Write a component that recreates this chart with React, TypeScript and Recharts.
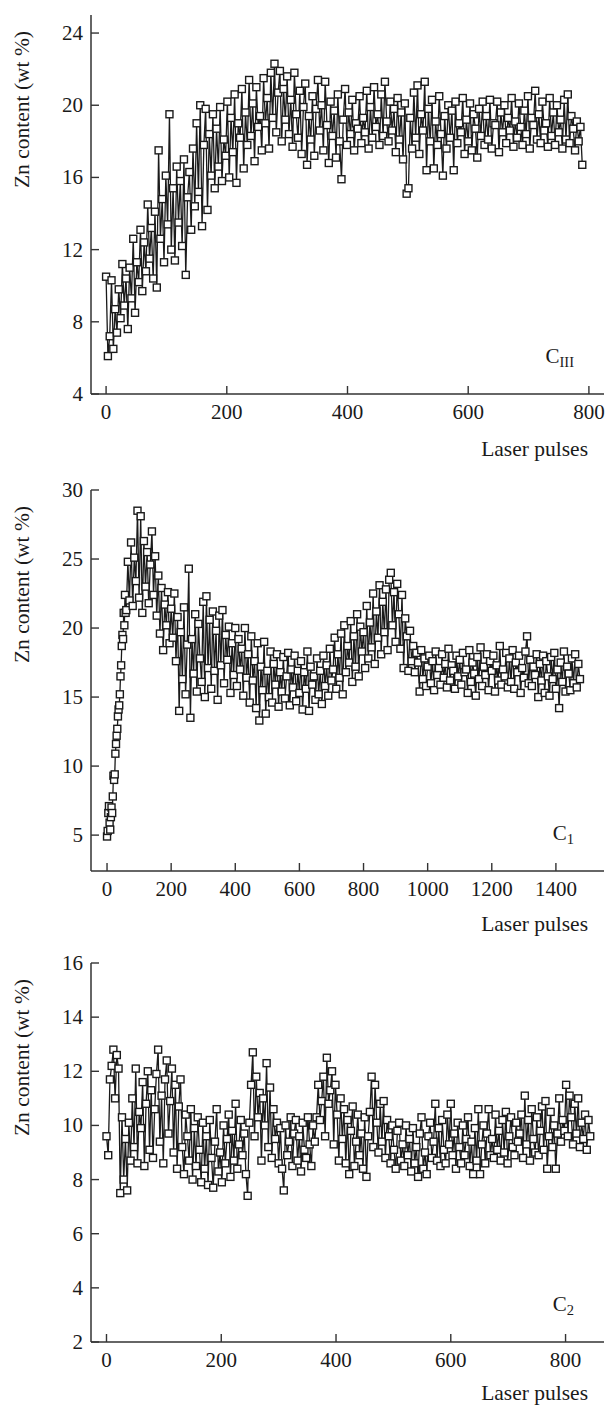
import React from "react";
import { LineChart, Line, XAxis, YAxis } from "recharts";

// Zn content (wt %) vs laser pulse number

// C_III: one point every 3 pulses, from pulse 0
const C3_STEP = 3;
const C3_ZN = [
  10.5, 6.1, 7.2, 10.3, 6.5, 8.7, 7.4, 9.8, 8.2, 11.2,
  8.9, 10.4, 7.6, 11.0, 9.3, 12.6, 8.5, 11.3, 10.2, 13.1,
  9.7, 12.4, 10.8, 14.5, 11.5, 13.2, 10.4, 14.1, 9.9, 17.5,
  12.6, 14.8, 11.3, 16.1, 13.4, 19.5, 12.0, 15.4, 11.4, 16.6,
  13.5, 15.8, 12.2, 17.0, 10.6, 14.9, 16.3, 13.1, 17.6, 14.4,
  19.0, 15.2, 20.0, 13.3, 17.8, 19.8, 14.2, 18.4, 16.1, 19.5,
  15.4, 18.7, 16.6, 19.9, 15.8, 18.1, 17.2, 20.2, 16.0, 19.3,
  17.4, 20.6, 15.7, 19.0, 18.2, 20.9, 16.5, 19.6, 17.8, 21.4,
  18.3, 20.1, 16.9, 21.0, 18.8, 19.4, 17.5, 21.5, 19.0, 20.4,
  17.6, 21.8, 19.3, 22.3, 18.5, 20.7, 21.9, 18.0, 20.9, 19.2,
  21.6, 18.4, 20.3, 17.7, 21.8, 19.5, 18.2, 20.8, 17.3, 19.9,
  21.2, 16.7, 19.4, 18.1, 20.5, 17.2, 19.8, 21.4, 18.6, 20.0,
  17.5, 21.3, 18.9, 16.8, 20.2, 18.3, 19.7, 17.1, 20.6, 18.0,
  15.9, 19.2, 20.9, 17.8, 19.6, 18.4, 20.3, 17.5, 19.0, 18.7,
  20.5, 17.9, 19.3, 18.5, 20.8, 17.6, 19.9, 18.2, 21.0, 18.8,
  19.5, 17.8, 20.6, 18.3, 21.3, 19.1, 18.0, 20.2, 18.6, 19.8,
  17.4, 20.4, 18.1, 19.6, 17.0, 20.1, 15.1, 15.4, 19.3, 17.6,
  20.7, 18.2, 21.1, 17.3, 19.5, 18.6, 21.3, 16.4, 19.8, 18.0,
  20.3, 16.5, 19.1, 17.8, 20.5, 18.4, 16.1, 19.4, 17.6, 20.0,
  18.2, 19.7, 16.4, 20.2, 17.9, 19.0, 18.5, 20.4, 17.3, 19.2,
  18.0, 20.1, 17.5, 19.5, 18.7, 17.1, 19.8, 18.3, 20.2, 17.8,
  19.4, 18.1, 20.3, 17.6, 19.0, 18.9, 20.2, 17.4, 19.6, 18.5,
  20.0, 17.9, 19.3, 18.6, 20.4, 17.7, 19.1, 18.2, 20.1, 18.8,
  17.8, 19.7, 18.4, 20.5, 17.6, 19.3, 18.9, 20.8, 18.1, 19.5,
  17.9, 20.2, 18.6, 19.0, 17.7, 20.4, 18.3, 19.6, 17.8, 20.0,
  18.5, 19.2, 17.6, 20.3, 18.1, 20.6, 17.9, 19.4, 18.7, 17.5,
  19.1, 18.0, 18.8, 16.7,
];

// C_1: every 2 pulses up to 58, then every 5 pulses from 60
const C1_EARLY_STEP = 2;
const C1_EARLY_ZN = [
  4.9, 5.3, 6.6, 7.1, 5.9, 5.4, 6.3, 7.0, 6.6, 7.8,
  9.3, 9.0, 9.4, 10.9, 11.6, 12.2, 12.7, 13.6, 14.1, 14.4,
  15.2, 16.5, 17.3, 18.7, 19.5, 19.2, 21.1, 20.2, 22.4, 21.1,
];
const C1_START = 60;
const C1_STEP = 5;
const C1_ZN = [
  21.3, 24.8, 22.0, 26.2, 21.6, 25.1, 23.4, 28.5, 22.2, 28.1,
  21.1, 26.3, 23.0, 25.5, 21.8, 24.6, 27.0, 22.4, 25.2, 20.9,
  23.8, 19.6, 22.9, 18.4, 21.7, 20.2, 22.6, 18.9, 21.4, 19.3,
  22.5, 17.6, 20.8, 14.0, 19.7, 16.3, 21.5, 15.2, 18.8, 24.3,
  13.5, 19.2, 16.7, 21.0, 15.4, 20.3, 17.8, 16.1, 21.9, 15.0,
  22.3, 17.1, 20.6, 15.6, 21.2, 16.9, 19.8, 14.8, 20.9, 17.3,
  21.3, 16.0, 19.5, 17.7, 20.1, 15.3, 18.9, 16.6, 20.0, 15.8,
  19.2, 17.0, 18.5, 15.1, 20.0, 16.4, 18.1, 14.6, 19.4, 16.2,
  17.6, 14.2, 18.9, 13.3, 17.2, 15.5, 19.0, 13.8, 16.9, 15.0,
  18.3, 14.6, 17.4, 15.9, 18.1, 14.3, 16.8, 15.4, 17.9, 14.9,
  16.5, 18.2, 14.4, 17.0, 15.7, 18.0, 14.7, 16.9, 15.3, 17.6,
  14.1, 16.8, 15.6, 18.3, 14.0, 17.2, 15.9, 16.5, 14.8, 17.8,
  15.2, 16.9, 14.5, 18.0, 15.8, 17.3, 15.1, 18.5, 16.2, 17.0,
  19.3, 15.6, 18.1, 16.4, 19.6, 15.2, 20.2, 16.8, 18.7, 17.5,
  20.5, 16.1, 19.4, 17.2, 21.0, 16.5, 20.1, 18.3, 19.7, 17.1,
  21.6, 17.8, 20.4, 18.6, 22.5, 17.4, 21.2, 19.3, 23.1, 18.1,
  21.9, 19.7, 22.8, 18.4, 23.5, 24.0, 20.2, 22.6, 19.0, 23.2,
  21.0, 18.5, 22.4, 17.1, 20.7, 19.4, 16.9, 19.8, 17.6, 18.7,
  16.8, 18.2, 17.5, 15.4, 18.4, 16.3, 17.8, 15.8, 17.2, 18.0,
  16.0, 17.6, 15.5, 18.3, 16.6, 17.1, 15.9, 18.1, 16.4, 17.4,
  15.7, 18.5, 16.2, 17.3, 16.9, 15.6, 18.0, 16.5, 17.7, 15.9,
  18.2, 16.8, 17.0, 15.3, 18.4, 16.1, 17.5, 16.7, 15.1, 17.9,
  16.3, 18.6, 15.8, 17.2, 16.6, 18.1, 15.5, 17.6, 16.9, 18.0,
  15.4, 17.3, 16.2, 18.7, 15.9, 17.0, 16.5, 18.2, 15.7, 17.8,
  16.1, 18.4, 15.6, 17.5, 16.8, 18.0, 15.3, 17.1, 16.4, 18.3,
  19.4, 16.0, 17.7, 15.8, 17.2, 16.6, 18.1, 15.0, 17.4, 16.2,
  18.0, 15.3, 17.6, 16.5, 15.1, 17.9, 16.3, 18.2, 15.6, 17.0,
  14.2, 17.5, 16.1, 18.3, 15.4, 17.2, 16.7, 15.5, 17.8, 16.0,
  18.1, 15.7, 17.4, 16.3,
];

// C_2: one point every 3 pulses, from pulse 0
const C2_STEP = 3;
const C2_ZN = [
  9.6, 8.9, 11.7, 12.2, 12.8, 11.0, 12.6, 12.1, 7.5, 10.3,
  8.0, 9.5, 7.6, 10.1, 8.7, 11.0, 9.2, 12.1, 8.6, 10.5,
  9.9, 11.6, 8.5, 10.8, 12.0, 9.1, 11.3, 8.8, 10.6, 11.9,
  12.8, 9.4, 11.1, 8.6, 11.7, 12.4, 9.7, 10.9, 12.1, 9.0,
  11.5, 8.4, 10.7, 11.7, 9.2, 8.2, 10.4, 9.6, 8.7, 10.6,
  8.0, 9.9, 8.5, 10.3, 9.1, 7.9, 10.1, 8.4, 9.6, 7.8,
  10.2, 8.8, 7.7, 9.4, 10.6, 8.3, 9.0, 7.9, 10.0, 8.6,
  9.5, 10.4, 8.1, 9.8, 8.7, 10.8, 8.4, 9.3, 10.2, 8.9,
  9.7, 8.2, 7.4, 10.1, 11.5, 12.7, 9.6, 11.8, 10.3, 11.2,
  8.7, 11.0, 10.0, 12.3, 9.2, 11.4, 8.8, 10.6, 9.5, 10.1,
  8.6, 9.9, 8.4, 7.6, 10.0, 8.9, 9.4, 10.3, 8.5, 9.7,
  10.2, 8.7, 9.6, 8.3, 10.1, 9.1, 8.8, 10.3, 9.3, 8.5,
  10.0, 9.4, 10.3, 11.5, 10.2, 10.9, 11.8, 9.6, 12.5, 10.8,
  11.3, 12.0, 9.3, 11.5, 10.4, 8.7, 11.0, 9.5, 10.6, 8.6,
  10.2, 8.2, 9.8, 10.7, 8.5, 9.4, 10.4, 8.9, 9.7, 8.4,
  10.3, 8.1, 9.6, 10.5, 11.8, 9.2, 11.5, 10.1, 9.0, 10.8,
  9.4, 10.9, 8.8, 10.2, 9.6, 8.6, 10.0, 9.1, 8.4, 9.8,
  10.1, 8.7, 9.3, 8.5, 10.0, 8.9, 9.5, 8.3, 9.9, 8.6,
  9.2, 8.1, 9.7, 10.3, 8.4, 9.0, 8.2, 9.6, 10.1, 8.8,
  9.4, 10.8, 8.7, 9.9, 8.5, 10.2, 9.1, 8.6, 10.4, 9.3,
  10.8, 8.9, 9.7, 8.4, 10.1, 9.2, 8.6, 10.0, 8.9, 9.5,
  10.3, 8.5, 9.4, 8.2, 9.9, 8.7, 10.6, 8.2, 9.3, 10.0,
  8.6, 9.7, 10.6, 8.9, 9.5, 8.8, 10.4, 9.1, 9.8, 8.7,
  10.2, 9.0, 10.5, 8.6, 9.6, 10.3, 9.2, 8.9, 10.1, 9.4,
  9.7, 10.4, 8.8, 11.1, 9.3, 10.2, 8.7, 10.6, 9.5, 9.0,
  10.3, 8.9, 9.8, 10.7, 9.1, 10.9, 8.4, 9.6, 10.5, 9.2,
  10.0, 8.4, 9.7, 11.0, 9.4, 10.2, 9.8, 11.5, 9.6, 11.1,
  10.3, 9.3, 10.8, 9.7, 11.0, 9.2, 10.1, 9.5, 10.4, 9.1,
  10.2, 9.6,
];

const C3_X_TICKS = [0, 200, 400, 600, 800];
const C3_Y_TICKS = [4, 8, 12, 16, 20, 24];
const C1_X_TICKS = [0, 200, 400, 600, 800, 1000, 1200, 1400];
const C1_Y_TICKS = [5, 10, 15, 20, 25, 30];
const C2_X_TICKS = [0, 200, 400, 600, 800];
const C2_Y_TICKS = [2, 4, 6, 8, 10, 12, 14, 16];

const toPoints = (values: number[], step: number, start = 0) =>
  values.map((zn, i) => ({ pulse: start + i * step, zn }));

const c3Data = toPoints(C3_ZN, C3_STEP);
const c1Data = [
  ...toPoints(C1_EARLY_ZN, C1_EARLY_STEP),
  ...toPoints(C1_ZN, C1_STEP, C1_START),
];
const c2Data = toPoints(C2_ZN, C2_STEP);

const FONT = "'Liberation Serif', 'Times New Roman', serif";
const INK = "#1a1a1a";
const FRAME = "#333";
const TICK_LEN = 8;

const SquareDot = (props: any) => {
  const { cx, cy, index } = props;
  if (cx == null || cy == null) return <g key={index} />;
  return (
    <rect
      key={index}
      x={cx - 3.5}
      y={cy - 3.5}
      width={7}
      height={7}
      fill="#fff"
      stroke={INK}
      strokeWidth={1.4}
    />
  );
};

// inward tick + label on the left axis
const LeftTick = (props: any) => {
  const { x, y, payload } = props;
  return (
    <g>
      <line x1={x} x2={x + TICK_LEN} y1={y} y2={y} stroke={FRAME} strokeWidth={1.4} />
      <text
        x={x - 8}
        y={y}
        textAnchor="end"
        dominantBaseline="central"
        fontSize={21}
        fontFamily={FONT}
        fill={INK}
      >
        {payload.value}
      </text>
    </g>
  );
};

// inward tick + label on the bottom axis
const BottomTick = (props: any) => {
  const { x, y, payload } = props;
  return (
    <g>
      <line x1={x} x2={x} y1={y} y2={y - TICK_LEN} stroke={FRAME} strokeWidth={1.4} />
      <text x={x} y={y + 25} textAnchor="middle" fontSize={21} fontFamily={FONT} fill={INK}>
        {payload.value}
      </text>
    </g>
  );
};

interface PanelProps {
  top: number;
  data: { pulse: number; zn: number }[];
  xDomain: [number, number];
  xTicks: number[];
  yDomain: [number, number];
  yTicks: number[];
  plotHeight: number;
  axisH: number;
  titleOffset: number;
  sub: string;
}

function Panel({
  top, data, xDomain, xTicks, yDomain, yTicks, plotHeight, axisH, titleOffset, sub,
}: PanelProps) {
  return (
    <div style={{ position: "absolute", left: 0, top }}>
      <LineChart
        width={606}
        height={15 + plotHeight + axisH}
        data={data}
        margin={{ top: 15, right: 2, bottom: 0, left: 0 }}
      >
        <XAxis
          dataKey="pulse"
          type="number"
          domain={xDomain}
          ticks={xTicks}
          interval={0}
          allowDataOverflow
          height={axisH}
          tickSize={0}
          tickMargin={0}
          tickLine={false}
          stroke={FRAME}
          strokeWidth={1.5}
          tick={<BottomTick />}
          label={(p: any) => {
            const vb = p.viewBox;
            return (
              <g>
                <text
                  x={vb.x + vb.width - 16}
                  y={vb.y + titleOffset}
                  textAnchor="end"
                  fontSize={21.5}
                  fontFamily={FONT}
                  fill={INK}
                >
                  Laser pulses
                </text>
                <text
                  x={vb.x + vb.width - 30}
                  y={vb.y - 31}
                  textAnchor="end"
                  fontSize={21}
                  fontFamily={FONT}
                  fill={INK}
                >
                  C
                  <tspan fontSize={14.5} dy={4}>
                    {sub}
                  </tspan>
                </text>
              </g>
            );
          }}
        />
        <XAxis
          xAxisId="top"
          dataKey="pulse"
          orientation="top"
          type="number"
          domain={xDomain}
          allowDataOverflow
          height={0}
          tick={false}
          tickLine={false}
          stroke={FRAME}
          strokeWidth={1.5}
        />
        <YAxis
          dataKey="zn"
          type="number"
          domain={yDomain}
          ticks={yTicks}
          interval={0}
          allowDataOverflow
          width={91}
          tickSize={0}
          tickMargin={0}
          tickLine={false}
          stroke={FRAME}
          strokeWidth={1.5}
          tick={<LeftTick />}
          label={(p: any) => {
            const vb = p.viewBox;
            const x = 28.5;
            const y = vb.y + 16;
            return (
              <text
                x={x}
                y={y}
                transform={`rotate(-90 ${x} ${y})`}
                textAnchor="end"
                fontSize={21.5}
                fontFamily={FONT}
                fill={INK}
              >
                Zn content (wt %)
              </text>
            );
          }}
        />
        <YAxis
          yAxisId="right"
          orientation="right"
          type="number"
          domain={yDomain}
          allowDataOverflow
          width={0}
          tick={false}
          tickLine={false}
          stroke={FRAME}
          strokeWidth={1.5}
        />
        <Line
          dataKey="zn"
          type="linear"
          stroke={INK}
          strokeWidth={1.3}
          dot={SquareDot}
          activeDot={false}
          isAnimationActive={false}
        />
      </LineChart>
    </div>
  );
}

export default function App() {
  return (
    <div
      style={{
        position: "absolute",
        left: 0,
        top: 0,
        width: 606,
        height: 1407,
        overflow: "hidden",
        background: "#fff",
        fontFamily: FONT,
      }}
    >
      <Panel
        top={0}
        data={c3Data}
        xDomain={[-25, 825]}
        xTicks={C3_X_TICKS}
        yDomain={[4, 25]}
        yTicks={C3_Y_TICKS}
        plotHeight={379}
        axisH={70}
        titleOffset={62}
        sub="III"
      />
      <Panel
        top={475}
        data={c1Data}
        xDomain={[-50, 1550]}
        xTicks={C1_X_TICKS}
        yDomain={[2.4, 30]}
        yTicks={C1_Y_TICKS}
        plotHeight={381}
        axisH={70}
        titleOffset={60}
        sub="1"
      />
      <Panel
        top={948}
        data={c2Data}
        xDomain={[-27, 867]}
        xTicks={C2_X_TICKS}
        yDomain={[2, 16]}
        yTicks={C2_Y_TICKS}
        plotHeight={379}
        axisH={65}
        titleOffset={58}
        sub="2"
      />
    </div>
  );
}
